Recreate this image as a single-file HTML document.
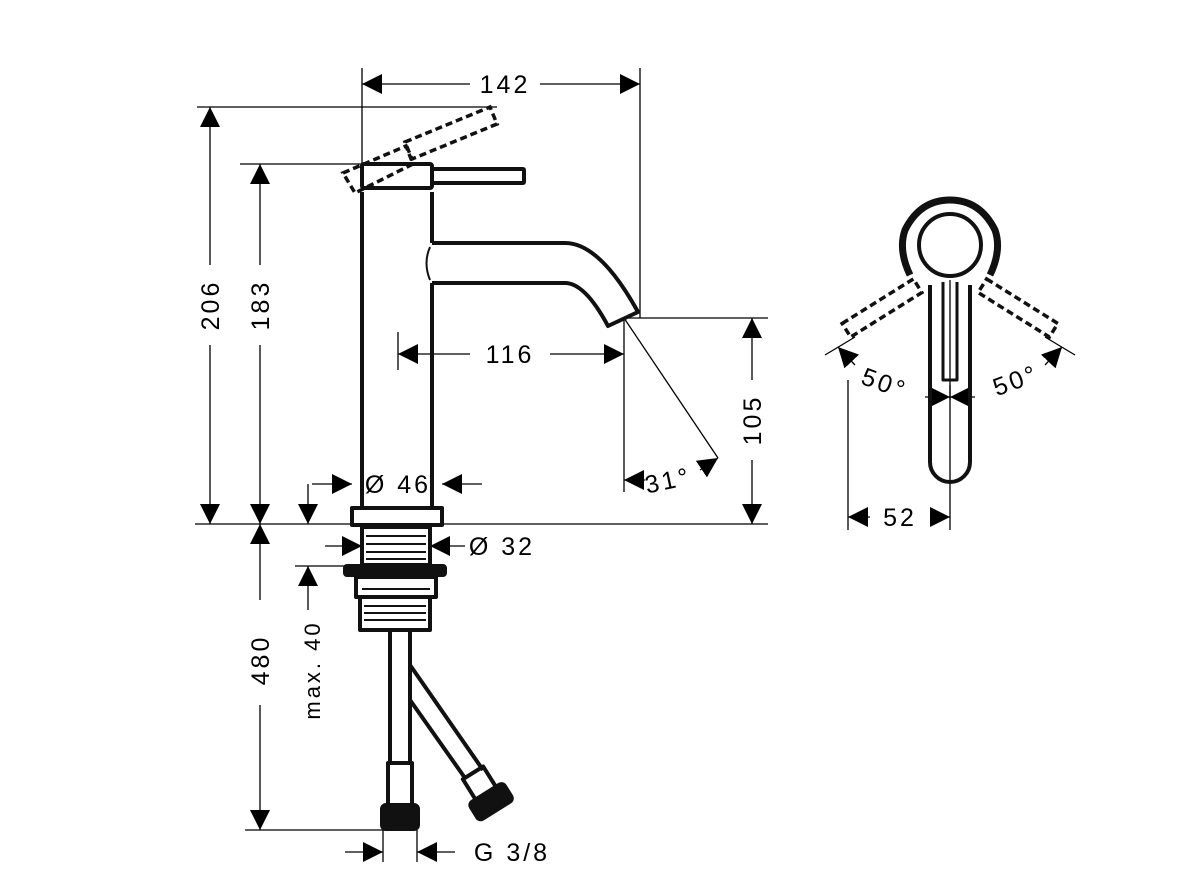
<!DOCTYPE html>
<html><head><style>body{margin:0;background:#fff}svg{display:block}text{font-family:"Liberation Sans",sans-serif;font-size:25px;fill:#000;letter-spacing:3px}</style></head>
<body>
<svg width="1200" height="880" viewBox="0 0 1200 880" xmlns="http://www.w3.org/2000/svg">
<defs>
<marker id="a" viewBox="0 0 10 10" refX="10" refY="5" markerWidth="20" markerHeight="20" markerUnits="userSpaceOnUse" orient="auto-start-reverse"><path d="M0,0 L10,5 L0,10 z"/></marker>
</defs>
<g stroke="#000" stroke-width="1.3" fill="none">
<line x1="362" y1="68" x2="362" y2="164"/>
<line x1="640" y1="68" x2="640" y2="318"/>
<line x1="197" y1="107" x2="497" y2="107"/>
<line x1="240" y1="164" x2="362" y2="164"/>
<line x1="195" y1="524" x2="352" y2="524"/>
<line x1="442" y1="524" x2="768" y2="524"/>
<line x1="625" y1="318" x2="768" y2="318"/>
<line x1="398" y1="332" x2="398" y2="370"/>
<line x1="624" y1="318" x2="624" y2="492"/>
<line x1="624" y1="318" x2="718" y2="458"/>
<line x1="295" y1="566" x2="345" y2="566"/>
<line x1="245" y1="830" x2="390" y2="830"/>
<line x1="383" y1="830" x2="383" y2="862"/>
<line x1="417" y1="830" x2="417" y2="862"/>
<line x1="362" y1="84" x2="470" y2="84" marker-start="url(#a)"/>
<line x1="540" y1="84" x2="640" y2="84" marker-end="url(#a)"/>
<line x1="210" y1="107" x2="210" y2="265" marker-start="url(#a)"/>
<line x1="210" y1="345" x2="210" y2="524" marker-end="url(#a)"/>
<line x1="260" y1="164" x2="260" y2="265" marker-start="url(#a)"/>
<line x1="260" y1="345" x2="260" y2="524" marker-end="url(#a)"/>
<line x1="398" y1="354" x2="470" y2="354" marker-start="url(#a)"/>
<line x1="550" y1="354" x2="624" y2="354" marker-end="url(#a)"/>
<line x1="752" y1="318" x2="752" y2="380" marker-start="url(#a)"/>
<line x1="752" y1="460" x2="752" y2="524" marker-end="url(#a)"/>
<line x1="312" y1="484" x2="352" y2="484" marker-end="url(#a)"/>
<line x1="482" y1="484" x2="442" y2="484" marker-end="url(#a)"/>
<line x1="308" y1="484" x2="308" y2="524" marker-end="url(#a)"/>
<line x1="325" y1="546" x2="362" y2="546" marker-end="url(#a)"/>
<line x1="465" y1="546" x2="430" y2="546" marker-end="url(#a)"/>
<line x1="308" y1="610" x2="308" y2="566" marker-end="url(#a)"/>
<line x1="260" y1="524" x2="260" y2="600" marker-start="url(#a)"/>
<line x1="260" y1="705" x2="260" y2="830" marker-end="url(#a)"/>
<line x1="345" y1="852" x2="383" y2="852" marker-end="url(#a)"/>
<line x1="455" y1="852" x2="417" y2="852" marker-end="url(#a)"/>
<line x1="645" y1="480" x2="624" y2="480" marker-end="url(#a)"/>
<line x1="700" y1="470" x2="718" y2="458" marker-end="url(#a)"/>
<line x1="848" y1="380" x2="848" y2="530"/>
<line x1="950" y1="385" x2="950" y2="530"/>
<line x1="950" y1="280" x2="950" y2="400"/>
<line x1="870" y1="517" x2="848" y2="517" marker-end="url(#a)"/>
<line x1="930" y1="517" x2="950" y2="517" marker-end="url(#a)"/>
<line x1="925" y1="397" x2="950" y2="397" marker-end="url(#a)"/>
<line x1="975" y1="397" x2="950" y2="397" marker-end="url(#a)"/>
<line x1="825" y1="355" x2="855" y2="337"/>
<line x1="855" y1="365" x2="838" y2="347" marker-end="url(#a)"/>
<line x1="1075" y1="355" x2="1045" y2="337"/>
<line x1="1045" y1="365" x2="1062" y2="347" marker-end="url(#a)"/>
</g>
<g stroke="#111" stroke-width="4" fill="none" stroke-linejoin="round">
<rect x="362" y="164" width="70" height="24" rx="2"/>
<line x1="362" y1="192" x2="362" y2="508"/>
<line x1="432" y1="192" x2="432" y2="243"/>
<line x1="432" y1="283" x2="432" y2="508"/>
<rect x="432" y="169" width="92" height="14" rx="1"/>
<path d="M432 243 L565 243 Q600 243 638 312 L608 326 Q585 283 565 283 L432 283"/>
<path d="M430 247 Q423 263 430 280" stroke-width="2"/>
<rect x="352" y="508" width="90" height="17"/>
<rect x="362" y="527" width="68" height="38"/>
<rect x="345" y="566" width="100" height="9" rx="2" fill="#111"/>
<rect x="356" y="577" width="80" height="20"/>
<rect x="360" y="597" width="70" height="33"/>
<line x1="390" y1="630" x2="390" y2="765"/>
<line x1="410" y1="630" x2="410" y2="765"/>
<line x1="410" y1="665" x2="483" y2="770"/>
<line x1="410" y1="700" x2="465" y2="778"/>
<rect x="388" y="763" width="24" height="42"/>
<rect x="382" y="805" width="36" height="24" rx="4" fill="#111"/>
<g transform="translate(490 800) rotate(-32)"><rect x="-12" y="-32" width="24" height="24"/><rect x="-20" y="-8" width="40" height="20" rx="4" fill="#111"/></g>
<circle cx="950" cy="245" r="31"/>
<path d="M910 275 Q898 250 905 230 Q920 200 950 200 Q980 200 995 230 Q1002 250 990 275" stroke-width="7"/>
<path d="M930 285 L930 462 A20 20 0 0 0 970 462 L970 285"/>
<path d="M943 282 L943 380 L957 380 L957 282" stroke-width="3"/>
</g>
<g stroke="#111" stroke-width="3.5" fill="none" stroke-dasharray="7 4">
<polygon points="343,173 406,146 413,164 355,193"/>
<polygon points="405,142 490,107 497,124 412,159"/>
<g transform="translate(882 308) rotate(-32)"><rect x="-42" y="-8" width="84" height="16"/></g>
<g transform="translate(1018 308) rotate(32)"><rect x="-42" y="-8" width="84" height="16"/></g>
</g>
<g stroke="#111" stroke-width="2">
<line x1="366" y1="536" x2="426" y2="536"/><line x1="366" y1="544" x2="426" y2="544"/><line x1="366" y1="552" x2="426" y2="552"/><line x1="366" y1="559" x2="426" y2="559"/>
<line x1="364" y1="606" x2="426" y2="606"/><line x1="364" y1="613" x2="426" y2="613"/><line x1="364" y1="620" x2="426" y2="620"/>
<line x1="362" y1="589" x2="430" y2="589"/>
</g>
<text x="505" y="93" text-anchor="middle">142</text>
<text x="510" y="363" text-anchor="middle">116</text>
<text x="398" y="493" text-anchor="middle">Ø 46</text>
<text x="502" y="555" text-anchor="middle">Ø 32</text>
<text x="512" y="861" text-anchor="middle">G 3/8</text>
<text x="668" y="489" text-anchor="middle" transform="rotate(-12 668 480)">31°</text>
<text x="900" y="526" text-anchor="middle">52</text>
<text x="885" y="392" text-anchor="middle" transform="rotate(20 885 382)">50°</text>
<text x="1015" y="389" text-anchor="middle" transform="rotate(-20 1015 378)">50°</text>
<text transform="translate(219 305) rotate(-90)" text-anchor="middle">206</text>
<text transform="translate(269 305) rotate(-90)" text-anchor="middle">183</text>
<text transform="translate(761 420) rotate(-90)" text-anchor="middle">105</text>
<text transform="translate(269 660) rotate(-90)" text-anchor="middle">480</text>
<text transform="translate(320 670) rotate(-90)" text-anchor="middle" style="font-size:22px">max. 40</text>
</svg>
</body></html>
